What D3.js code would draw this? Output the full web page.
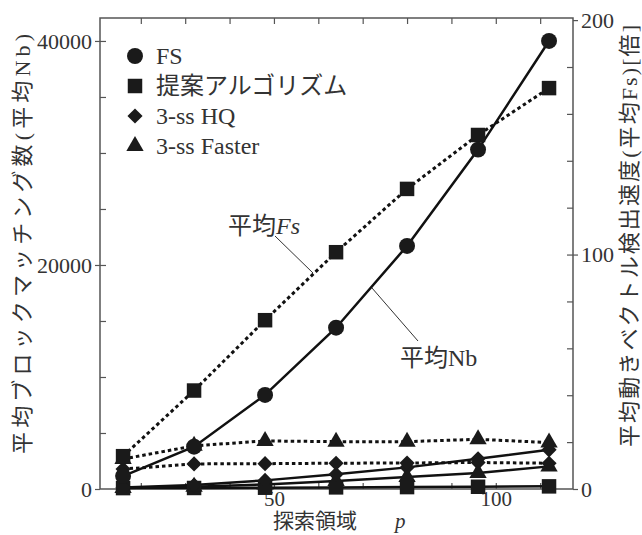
<!DOCTYPE html>
<meta charset="utf-8">
<style>
body { margin: 0; background: #fff; }
text { font-family: "Liberation Serif", "Noto Sans CJK JP", serif; fill: #333; }
.axis path { stroke: #555; stroke-width: 1.5px; }
.axis line { stroke: #555; stroke-width: 1.2px; }
.axis text { font-size: 22px; fill: #333; }
</style>
<body>
<script src="https://d3js.org/d3.v7.min.js"></script>
<script>
// search range p
var pVals = [16, 32, 48, 64, 80, 96, 112];
// average block matching count Nb (left axis)
var nbFS     = [1150, 3780, 8400, 14400, 21700, 30300, 40000];
var nbProp   = [80, 90, 115, 145, 170, 200, 235];
var nbHQ     = [135, 355, 770, 1310, 1930, 2700, 3500];
var nbFaster = [90, 205, 410, 715, 1075, 1430, 2020];
// average speed-up Fs (right axis)
var fsProp   = [14, 42, 72, 101, 128, 151, 171];
var fsHQ     = [8.5, 10.7, 10.8, 11, 11.1, 11.3, 11];
var fsFaster = [12.8, 18.4, 20.5, 20.2, 20.2, 21.2, 19.8];

var leftTicks = [0, 20000, 40000];
var rightTicks = [0, 100, 200];
var xTicks = [50, 100];
var legendNames = ["FS", "提案アルゴリズム", "3-ss HQ", "3-ss Faster"];

var width = 642, height = 535;
var L = 100, R = 573, T = 18, B = 489;

var svg = d3.select("body").append("svg")
    .attr("width", width)
    .attr("height", height);

var x = d3.scaleLinear().domain([10.8, 117.4]).range([L, R]);
var yL = d3.scaleLinear().domain([0, 42050]).range([B, T]);
var yR = d3.scaleLinear().domain([0, 200.9]).range([B, T]);

// minor ticks (inward)
svg.append("g").attr("class", "axis")
    .attr("transform", "translate(" + L + ",0)")
    .call(d3.axisLeft(yL).tickValues(d3.range(5000, 42000, 5000)).tickSize(-6).tickFormat(""))
    .select(".domain").remove();
svg.append("g").attr("class", "axis")
    .attr("transform", "translate(" + R + ",0)")
    .call(d3.axisRight(yR).tickValues(d3.range(20, 200, 20)).tickSize(-6).tickFormat(""))
    .select(".domain").remove();
svg.append("g").attr("class", "axis")
    .attr("transform", "translate(0," + B + ")")
    .call(d3.axisBottom(x).tickValues(d3.range(20, 117, 10)).tickSize(-6).tickFormat(""))
    .select(".domain").remove();
svg.append("g").attr("class", "axis")
    .attr("transform", "translate(0," + T + ")")
    .call(d3.axisTop(x).tickValues(d3.range(20, 117, 10)).tickSize(-6).tickFormat(""))
    .select(".domain").remove();

// major ticks + labels
svg.append("g").attr("class", "axis")
    .attr("transform", "translate(" + L + ",0)")
    .call(d3.axisLeft(yL).tickValues(leftTicks).tickSize(5).tickPadding(3).tickFormat(d3.format("d")))
    .select(".domain").remove();
svg.append("g").attr("class", "axis")
    .attr("transform", "translate(" + R + ",0)")
    .call(d3.axisRight(yR).tickValues(rightTicks).tickSize(5).tickPadding(3).tickFormat(d3.format("d")))
    .select(".domain").remove();
var xAx = svg.append("g").attr("class", "axis")
    .attr("transform", "translate(0," + B + ")")
    .call(d3.axisBottom(x).tickValues(xTicks).tickSize(0).tickPadding(2).tickFormat(d3.format("d")));
xAx.select(".domain").remove();
xAx.selectAll("text").style("font-size", "21px");

// frame
svg.append("rect")
    .attr("x", L).attr("y", T)
    .attr("width", R - L).attr("height", B - T)
    .attr("fill", "none").attr("stroke", "#555").attr("stroke-width", 1.5);

var lineL = d3.line().x(function(d, i) { return x(pVals[i]); }).y(function(d) { return yL(d); });
var lineR = d3.line().x(function(d, i) { return x(pVals[i]); }).y(function(d) { return yR(d); });

var solid = [nbFS, nbProp, nbHQ, nbFaster];
var dotted = [fsProp, fsHQ, fsFaster];

solid.forEach(function(s) {
  svg.append("path").attr("d", lineL(s))
    .attr("fill", "none").attr("stroke", "#111").attr("stroke-width", 2.5);
});
dotted.forEach(function(s) {
  svg.append("path").attr("d", lineR(s))
    .attr("fill", "none").attr("stroke", "#111").attr("stroke-width", 3)
    .attr("stroke-dasharray", "3.5,3");
});

var symCircle = d3.symbol().type(d3.symbolCircle).size(200);
var symSquare = d3.symbol().type(d3.symbolSquare).size(210);
var symDiamond = d3.symbol().type(d3.symbolSquare).size(115);
var symTriangle = d3.symbol().type(d3.symbolTriangle).size(130);
var rot = [0, 0, 45, 0];

function markers(data, scale, sym, r) {
  svg.append("g").selectAll("path").data(data).enter().append("path")
    .attr("d", sym)
    .attr("fill", "#1a1a1a")
    .attr("transform", function(d, i) {
      return "translate(" + x(pVals[i]) + "," + scale(d) + ") rotate(" + r + ")";
    });
}
markers(nbProp, yL, symSquare, 0);
markers(nbFaster, yL, symTriangle, 0);
markers(nbHQ, yL, symDiamond, 45);
markers(fsFaster, yR, symTriangle, 0);
markers(fsHQ, yR, symDiamond, 45);
markers(fsProp, yR, symSquare, 0);
markers(nbFS, yL, symCircle, 0);

// legend
var legSyms = [symCircle, symSquare, symDiamond, symTriangle];
legendNames.forEach(function(name, i) {
  var cy = 56 + i * 30;
  svg.append("path").attr("d", legSyms[i])
    .attr("fill", "#1a1a1a")
    .attr("transform", "translate(135," + cy + ") rotate(" + rot[i] + ")");
  svg.append("text").attr("x", 156).attr("y", cy + 8)
    .attr("font-size", 24).text(name);
});

// annotations
var a1 = svg.append("text").attr("x", 228).attr("y", 234).attr("font-size", 24);
a1.append("tspan").text("平均");
a1.append("tspan").attr("font-style", "italic").text("Fs");
svg.append("line").attr("x1", 275).attr("y1", 236).attr("x2", 313).attr("y2", 273)
  .attr("stroke", "#333").attr("stroke-width", 1);

svg.append("text").attr("x", 400).attr("y", 366).attr("font-size", 24).text("平均Nb");
svg.append("line").attr("x1", 418).attr("y1", 341).attr("x2", 372).attr("y2", 288)
  .attr("stroke", "#333").attr("stroke-width", 1);

// axis titles
svg.append("text")
    .attr("transform", "translate(30,244) rotate(-90)")
    .attr("text-anchor", "middle")
    .attr("font-size", 22)
    .attr("fill", "#555")
    .attr("textLength", 420).attr("lengthAdjust", "spacing")
    .text("平均ブロックマッチング数(平均Nb)");
svg.append("text")
    .attr("transform", "translate(637,236) rotate(-90)")
    .attr("text-anchor", "middle")
    .attr("font-size", 22)
    .attr("fill", "#555")
    .attr("textLength", 422).attr("lengthAdjust", "spacing")
    .text("平均動きベクトル検出速度(平均Fs)[倍]");

var xt = svg.append("text").attr("x", 273).attr("y", 528).attr("font-size", 21).attr("fill", "#555");
xt.append("tspan").text("探索領域");
xt.append("tspan").attr("x", 395).attr("font-style", "italic").text("p");
</script>
</body>
